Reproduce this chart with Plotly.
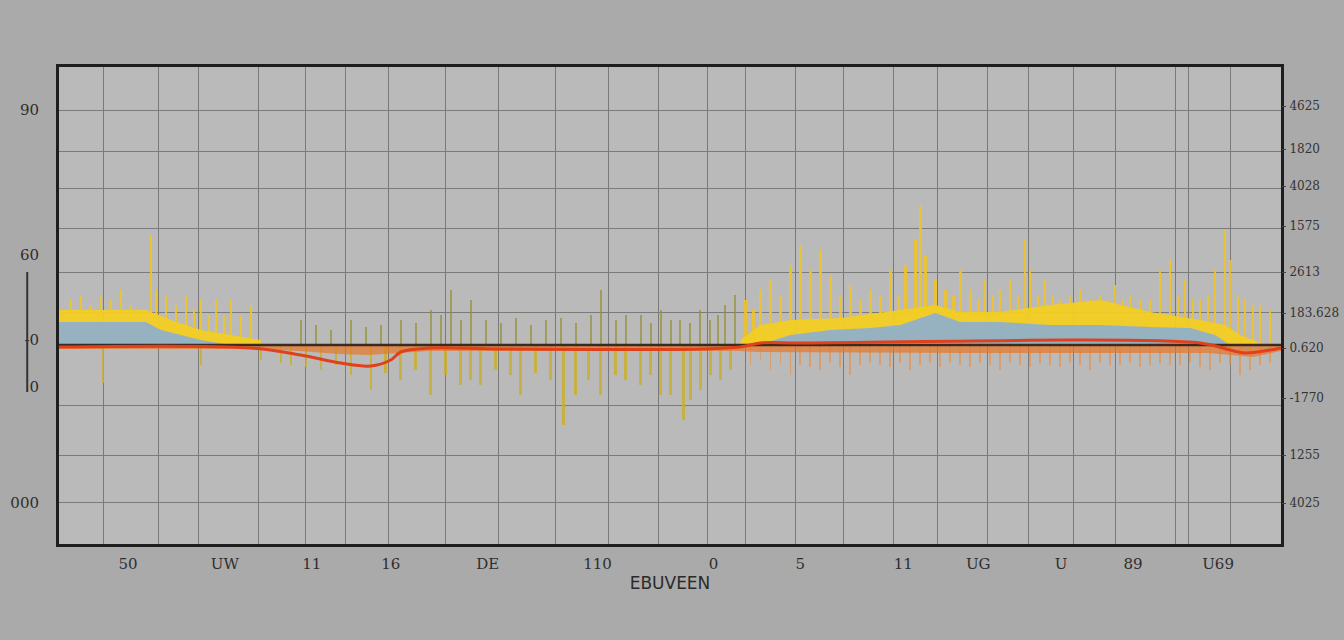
import plotly.graph_objects as go

# ---------------- data (x: horizontal position index, y: signal level) ----------------
# yellow upper band (left section)
band_left_x = [0, 40, 87, 100, 112, 142, 172, 202]
band_left_y = [35, 35, 35, 30, 25, 15, 10, 5]
# blue area (left section)
blue_left_x = [0, 87, 102, 142, 172]
blue_left_y = [23, 23, 15, 5, 0]
# yellow upper band (right section)
band_right_x = [682, 702, 732, 782, 842, 877, 902, 942, 992, 1042, 1092, 1142, 1167, 1182, 1200]
band_right_y = [5, 20, 25, 27, 35, 40, 33, 33, 40, 45, 33, 25, 20, 10, 3]
# blue area (right section)
blue_right_x = [700, 732, 772, 812, 842, 877, 902, 942, 992, 1042, 1092, 1132, 1157, 1172]
blue_right_y = [0, 10, 15, 17, 20, 32, 23, 23, 20, 20, 18, 17, 10, 0]
# orange fringe under the baseline
fringe_x = [0, 200, 240, 280, 310, 340, 370, 450, 680, 700, 900, 1150, 1175, 1195, 1223]
fringe_y = [-4, -4, -6, -9, -10, -8, -6, -6, -6, -7, -8, -8, -10, -12, -6]
# red trend line
red_x = [0, 192, 242, 282, 312, 332, 342, 372, 442, 642, 682, 702, 742, 1142, 1172, 1187, 1212, 1223]
red_y = [-2, -3, -10, -18, -21, -15, -7, -3, -4, -4, -2, 2, 2, 2, -5, -8, -5, -3]
# black reference line
base_x = [0, 1223]
base_y = [0, 0]

# yellow spikes (left)
spk_left_x = [12, 22, 32, 42, 52, 62, 72, 82, 92, 97, 107, 117, 127, 135, 142, 150, 157, 165, 172, 182, 192]
spk_left_y = [45, 50, 40, 50, 45, 55, 40, 35, 110, 55, 50, 40, 50, 35, 45, 30, 45, 30, 45, 30, 40]
# olive spikes (middle, upward)
spk_mid_up_x = [242, 257, 272, 292, 307, 322, 342, 357, 372, 382, 392, 402, 412, 427, 442, 457, 472, 487,
                502, 517, 532, 542, 557, 567, 582, 592, 602, 612, 622, 632, 642, 652, 660, 667, 677]
spk_mid_up_y = [25, 20, 15, 25, 18, 20, 25, 22, 35, 30, 55, 25, 45, 25, 22, 27, 20, 25,
                27, 22, 30, 55, 25, 30, 30, 22, 35, 25, 25, 22, 35, 25, 30, 40, 50]
# olive spikes (downward)
spk_dn_x = [44, 142, 202, 222, 232, 247, 262, 277, 292, 312, 327, 342, 357, 372, 387, 402, 412, 422, 437,
            452, 462, 477, 492, 505, 517, 530, 542, 557, 567, 582, 592, 602, 612, 625, 632, 642, 652, 662, 672]
spk_dn_y = [-38, -20, -15, -18, -20, -22, -25, -20, -30, -45, -28, -35, -25, -50, -30, -40, -35, -40, -25,
            -30, -50, -28, -35, -80, -50, -35, -50, -30, -35, -40, -30, -50, -50, -75, -55, -45, -30, -35, -25]
# yellow/orange spikes (right)
spk_right_x = [687, 695, 702, 712, 722, 732, 742, 752, 762, 772, 782, 792, 802, 812, 822, 832, 840, 847, 857,
               862, 867, 877, 887, 895, 902, 912, 920, 927, 935, 942, 952, 960, 967, 972, 980, 987, 995, 1002,
               1012, 1022, 1032, 1042, 1050, 1057, 1065, 1072, 1082, 1092, 1102, 1112, 1120, 1127, 1135, 1142,
               1150, 1157, 1167, 1172, 1180, 1187, 1195, 1202, 1212]
spk_right_y = [45, 35, 55, 65, 50, 80, 100, 75, 95, 70, 50, 60, 45, 55, 50, 75, 50, 80, 105,
               140, 90, 65, 55, 50, 75, 55, 45, 65, 50, 55, 65, 50, 105, 75, 50, 65, 50, 45,
               50, 55, 45, 50, 45, 60, 45, 50, 45, 45, 75, 85, 50, 65, 45, 45,
               50, 75, 115, 85, 50, 45, 40, 40, 35]
# small orange spikes below baseline (right)
spk_rdn_x = [692, 702, 712, 722, 732, 742, 752, 762, 772, 782, 792, 802, 812, 822, 832, 842, 852, 862, 872, 882,
             892, 902, 912, 922, 932, 942, 952, 962, 972, 982, 992, 1002, 1012, 1022, 1032, 1042, 1052, 1062,
             1072, 1082, 1092, 1102, 1112, 1122, 1132, 1142, 1152, 1162, 1172, 1182, 1192, 1202, 1212]
spk_rdn_y = [-20, -15, -25, -18, -30, -20, -22, -25, -18, -22, -30, -20, -18, -20, -22, -18, -25, -20, -18, -22,
             -18, -20, -22, -18, -20, -25, -18, -20, -22, -18, -20, -22, -18, -20, -25, -18, -20, -20,
             -18, -22, -20, -18, -20, -20, -18, -22, -25, -18, -20, -30, -25, -20, -18]

# axis labels (garbled in the source, kept as text)
left_vals = [235, 90, 5, -42, -158]
left_text = ["90", "60", "-0", "0", "000"]
right_vals = [239, 196, 159, 119, 73, 32, -3, -53, -110, -158]
right_text = ["4625", "1820", "4028", "1575", "2613", "183.628", "0.620", "-1770", "1255", "4025"]
bottom_vals = [69, 166, 253, 332, 429, 539, 655, 742, 845, 920, 1003, 1075, 1160]
bottom_text = ["50", "UW", "11", "16", "DE", "110", "0", "5", "11", "UG", "U", "89", "U69"]
grid_x = [45, 100, 140, 200, 247, 287, 330, 387, 440, 497, 550, 600, 649, 687, 737, 785, 835, 879, 929, 970, 1015, 1057, 1117, 1130, 1172]
grid_y = [235, 194, 157, 117, 73, 33, -60, -110, -157]
x_title = "EBUVEEN"

# ---------------- figure ----------------
fig = go.Figure()

def area(x, y, color, name):
    fig.add_trace(go.Scatter(x=x, y=y, mode="lines", fill="tozeroy", fillcolor=color,
                             line=dict(width=0, color=color), name=name, showlegend=False,
                             hoverinfo="skip"))

def spikes(x, y, color, w):
    fig.add_trace(go.Bar(x=x, y=y, base=0, width=w, marker=dict(color=color, line=dict(width=0)),
                         showlegend=False, hoverinfo="skip"))

area(fringe_x, fringe_y, "rgba(232,120,40,0.7)", "fringe")
spikes(spk_rdn_x, spk_rdn_y, "rgba(235,140,60,0.6)", 1.8)
spikes(spk_dn_x, spk_dn_y, "rgba(200,175,45,0.85)", 2.5)
spikes(spk_left_x, spk_left_y, "rgba(238,198,40,0.9)", 2.5)
spikes(spk_mid_up_x, spk_mid_up_y, "rgba(150,145,60,0.75)", 2)
spikes(spk_right_x, spk_right_y, "rgba(240,195,40,0.9)", 2.5)
area(band_left_x, band_left_y, "rgba(242,205,35,0.95)", "band L")
area(band_right_x, band_right_y, "rgba(242,205,35,0.95)", "band R")
area(blue_left_x, blue_left_y, "rgba(140,175,210,0.9)", "blue L")
area(blue_right_x, blue_right_y, "rgba(140,175,210,0.9)", "blue R")

fig.add_trace(go.Scatter(x=base_x, y=base_y, mode="lines", line=dict(color="#3a2a22", width=2.5),
                         showlegend=False, hoverinfo="skip"))
fig.add_trace(go.Scatter(x=red_x, y=red_y, mode="lines", line=dict(color="#e0401c", width=3, shape="spline"),
                         showlegend=False, hoverinfo="skip"))
# dummy traces for the overlay axes
fig.add_trace(go.Scatter(x=[0], y=[0], xaxis="x2", yaxis="y2", mode="markers",
                         marker=dict(opacity=0), showlegend=False, hoverinfo="skip"))
fig.add_trace(go.Scatter(x=[0], y=[0], yaxis="y3", mode="markers", marker=dict(opacity=0),
                         showlegend=False, hoverinfo="skip"))

fig.update_layout(
    width=1344, height=640,
    paper_bgcolor="#aaaaaa", plot_bgcolor="#bababa",
    margin=dict(l=59, r=63, t=67, b=96, autoexpand=False),
    bargap=0, barmode="overlay",
    font=dict(family="DejaVu Serif", color="#2e2e2e", size=15),
    xaxis=dict(range=[0, 1223], tickmode="array", tickvals=bottom_vals, ticktext=bottom_text,
               showgrid=False, zeroline=False, ticks="", ticklabelstandoff=4, automargin=False,
               showline=True, linecolor="#1e1e1e", linewidth=3, mirror=True,
               title=dict(text=x_title, standoff=0, font=dict(family="DejaVu Sans", size=17, color="#2a2a2a"))),
    xaxis2=dict(range=[0, 1223], overlaying="x", tickmode="array", tickvals=grid_x, automargin=False,
                showgrid=True, gridcolor="#7a7a7a", gridwidth=1, showticklabels=False, zeroline=False,
                layer="below traces"),
    yaxis=dict(range=[-199, 278], tickmode="array", tickvals=left_vals, ticktext=left_text, automargin=False,
               showgrid=False, zeroline=False, ticks="", ticklabelstandoff=14,
               showline=True, linecolor="#1e1e1e", linewidth=3, mirror=True),
    yaxis2=dict(range=[-199, 278], overlaying="y", side="right", tickmode="array", automargin=False,
                tickvals=right_vals, ticktext=right_text, ticks="outside", ticklen=4,
                tickcolor="#444", showgrid=False, zeroline=False, ticklabelstandoff=1,
                tickfont=dict(size=12, family="DejaVu Serif", color="#333")),
    yaxis3=dict(range=[-199, 278], overlaying="y", tickmode="array", tickvals=grid_y, automargin=False,
                showgrid=True, gridcolor="#7a7a7a", gridwidth=1, showticklabels=False,
                zeroline=False, layer="below traces"),
    shapes=[dict(type="line", xref="paper", yref="paper", x0=-0.026, x1=-0.026,
                 y0=(544 - 272) / 477, y1=(544 - 392) / 477, line=dict(color="#333", width=2))],
)

fig.write_html("out.html")
